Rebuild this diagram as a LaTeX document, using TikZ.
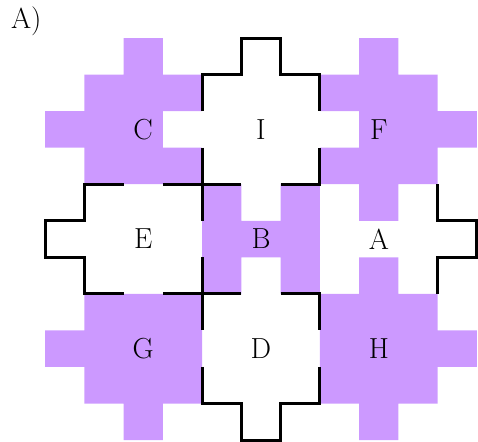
\documentclass[tikz,border=0pt]{standalone}
\usepackage{xcolor}
\usepackage{tikz}
\definecolor{lilac}{HTML}{CC99FF}

\begin{document}
\begin{tikzpicture}[x=39.27pt,y=-36.55pt,
  tile/.style={fill=lilac,draw=none},
  rim/.style={line width=3pt,line join=miter},
  lbl/.style={font=\fontsize{29}{34}\selectfont,inner sep=0pt}]
  \useasboundingbox (-1.146,-1.04) rectangle (11.026,11.026);
  % purple pieces C, F, B, G, H
  \fill[tile] (1,1) -- (2,1) -- (2,0) -- (3,0) -- (3,1) -- (4,1) -- (4,2) -- (3,2)
    -- (3,3) -- (4,3) -- (4,4) -- (1,4) -- (1,3) -- (0,3) -- (0,2) -- (1,2) -- cycle;
  \fill[tile] (7,1) -- (8,1) -- (8,0) -- (9,0) -- (9,1) -- (10,1) -- (10,2) -- (11,2)
    -- (11,3) -- (10,3) -- (10,4) -- (9,4) -- (9,5) -- (8,5) -- (8,4) -- (7,4)
    -- (7,3) -- (8,3) -- (8,2) -- (7,2) -- cycle;
  \fill[tile] (4,4) -- (5,4) -- (5,5) -- (6,5) -- (6,4) -- (7,4) -- (7,7) -- (6,7)
    -- (6,6) -- (5,6) -- (5,7) -- (4,7) -- cycle;
  \fill[tile] (1,7) -- (4,7) -- (4,10) -- (3,10) -- (3,11) -- (2,11) -- (2,10)
    -- (1,10) -- (1,9) -- (0,9) -- (0,8) -- (1,8) -- cycle;
  \fill[tile] (7,7) -- (8,7) -- (8,6) -- (9,6) -- (9,7) -- (10,7) -- (10,8) -- (11,8)
    -- (11,9) -- (10,9) -- (10,10) -- (9,10) -- (9,11) -- (8,11) -- (8,10) -- (7,10) -- cycle;
  % outlines of the white pieces I, E, A, D
  \draw[rim] (4,2) -- (4,1) -- (5,1) -- (5,0) -- (6,0) -- (6,1) -- (7,1) -- (7,2)
    (4,3) -- (4,4) -- (5,4)  (6,4) -- (7,4) -- (7,3);
  \draw[rim] (2,4) -- (1,4) -- (1,5) -- (0,5) -- (0,6) -- (1,6) -- (1,7) -- (2,7)
    (3,4) -- (4,4) -- (4,5)  (3,7) -- (4,7) -- (4,6);
  \draw[rim] (10,4) -- (10,5) -- (11,5) -- (11,6) -- (10,6) -- (10,7);
  \draw[rim] (5,7) -- (4,7) -- (4,8)  (6,7) -- (7,7) -- (7,8)
    (4,9) -- (4,10) -- (5,10) -- (5,11) -- (6,11) -- (6,10) -- (7,10) -- (7,9);
  % letters
  \foreach \n/\x/\y in {C/2.5/2.5,I/5.5/2.5,F/8.5/2.5,E/2.5/5.5,B/5.5/5.5,
                        A/8.5/5.5,G/2.5/8.5,D/5.5/8.5,H/8.5/8.5}
    \node[lbl] (\n) at (\x,\y) {\n};
  \node[lbl,anchor=base west] (title) at (-0.87,-0.25) {A)};
\end{tikzpicture}
\end{document}
